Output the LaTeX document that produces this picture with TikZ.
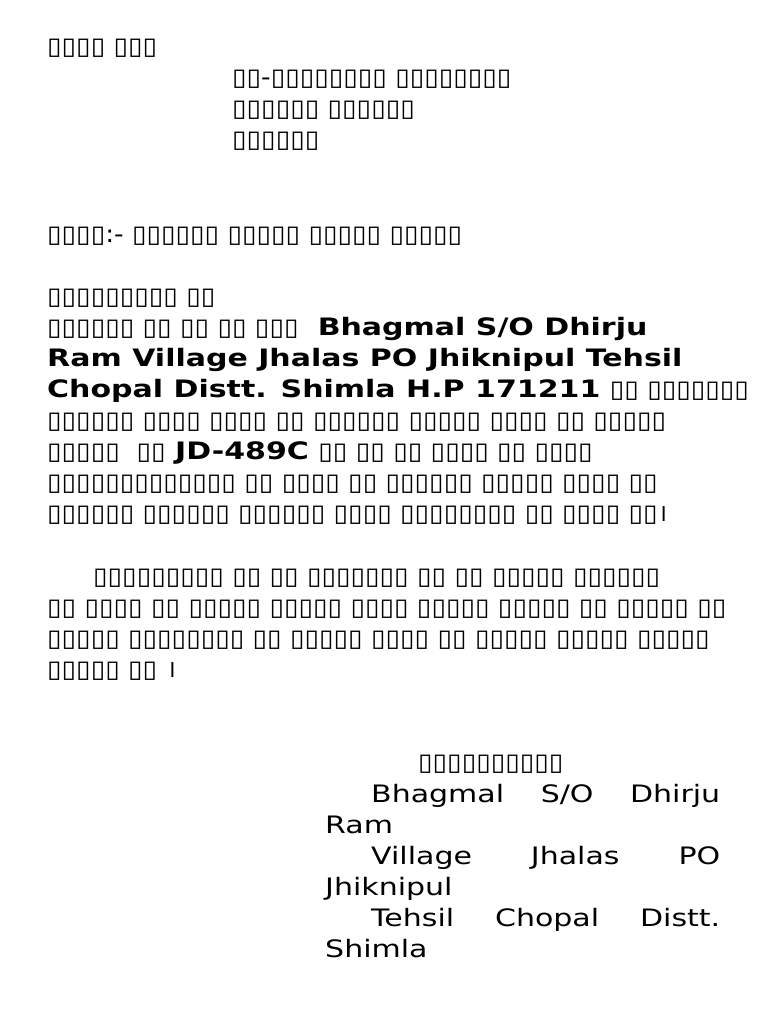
\documentclass[tikz,border=0pt]{standalone}
\usepackage{fontspec}
\setmainfont[FakeStretch=1.25]{DejaVu Sans}
\newfontfamily\boxf[FakeStretch=1.10]{DejaVu Sans}
\newfontfamily\devf[Script=Devanagari]{Noto Sans}
\newcommand\bx[1]{{\boxf #1}}
\newcommand\dn{{\devf ।}}
\begin{document}
\begin{tikzpicture}[x=1pt,y=-1pt,
  t/.style={anchor=base west,inner sep=0pt,font=\fontsize{24}{31}\selectfont}]
\useasboundingbox[fill=white] (0,0) rectangle (768,1024);
\node[t] (l1) at (47,55) {\bx{▯▯▯▯ ▯▯▯}};
\node[t] (l2) at (232,86) {\bx{▯▯-▯▯▯▯▯▯▯▯ ▯▯▯▯▯▯▯▯}};
\node[t] (l3) at (232,117) {\bx{▯▯▯▯▯▯ ▯▯▯▯▯▯}};
\node[t] (l4) at (232,148) {\bx{▯▯▯▯▯▯}};
\node[t] (l5) at (47,242) {\bx{▯▯▯▯:- ▯▯▯▯▯▯ ▯▯▯▯▯ ▯▯▯▯▯ ▯▯▯▯▯}};
\node[t] (l6) at (47,304) {\bx{▯▯▯▯▯▯▯▯▯ ▯▯}};
\node[t] (l7) at (47,335) {\bx{▯▯▯▯▯▯ ▯▯ ▯▯ ▯▯ ▯▯▯}\ \ \textbf{Bhagmal S/O Dhirju}};
\node[t] (l8) at (47,366) {\textbf{Ram Village Jhalas PO Jhiknipul Tehsil}};
\node[t] (l9) at (47,397) {\textbf{Chopal Distt. Shimla H.P 171211} \bx{▯▯ ▯▯▯▯▯▯▯}};
\node[t] (l10) at (47,428) {\bx{▯▯▯▯▯▯ ▯▯▯▯ ▯▯▯▯ ▯▯ ▯▯▯▯▯▯ ▯▯▯▯▯ ▯▯▯▯ ▯▯ ▯▯▯▯▯}};
\node[t] (l11) at (47,459) {\bx{▯▯▯▯▯\ \ ▯▯} \textbf{JD-489C} \bx{▯▯ ▯▯ ▯▯ ▯▯▯▯ ▯▯ ▯▯▯▯}};
\node[t] (l12) at (47,490) {\bx{▯▯▯▯▯▯▯▯▯▯▯▯▯ ▯▯ ▯▯▯▯ ▯▯ ▯▯▯▯▯▯ ▯▯▯▯▯ ▯▯▯▯ ▯▯}};
\node[t] (l13) at (47,521) {\bx{▯▯▯▯▯▯ ▯▯▯▯▯▯ ▯▯▯▯▯▯ ▯▯▯▯ ▯▯▯▯▯▯▯▯ ▯▯ ▯▯▯▯ ▯▯}\dn};
\node[t] (l14) at (93,584) {\bx{▯▯▯▯▯▯▯▯▯ ▯▯ ▯▯ ▯▯▯▯▯▯▯ ▯▯ ▯▯ ▯▯▯▯▯ ▯▯▯▯▯▯}};
\node[t] (l15) at (47,615) {\bx{▯▯ ▯▯▯▯ ▯▯ ▯▯▯▯▯ ▯▯▯▯▯ ▯▯▯▯ ▯▯▯▯▯ ▯▯▯▯▯ ▯▯ ▯▯▯▯▯ ▯▯}};
\node[t] (l16) at (47,646) {\bx{▯▯▯▯▯ ▯▯▯▯▯▯▯▯ ▯▯ ▯▯▯▯▯ ▯▯▯▯ ▯▯ ▯▯▯▯▯ ▯▯▯▯▯ ▯▯▯▯▯}};
\node[t] (l17) at (47,677) {\bx{▯▯▯▯▯ ▯▯} \dn};
\node[t] (s0) at (418,770) {\bx{▯▯▯▯▯▯▯▯▯▯}};
\node[t] (s1) at (371,802) {\makebox[349pt][s]{Bhagmal S/O Dhirju}};
\node[t] (s2) at (325,833) {Ram};
\node[t] (s3) at (371,864) {\makebox[349pt][s]{Village Jhalas PO}};
\node[t] (s4) at (325,895) {Jhiknipul};
\node[t] (s5) at (371,926) {\makebox[349pt][s]{Tehsil Chopal Distt.}};
\node[t] (s6) at (325,957) {Shimla};
\end{tikzpicture}
\end{document}
